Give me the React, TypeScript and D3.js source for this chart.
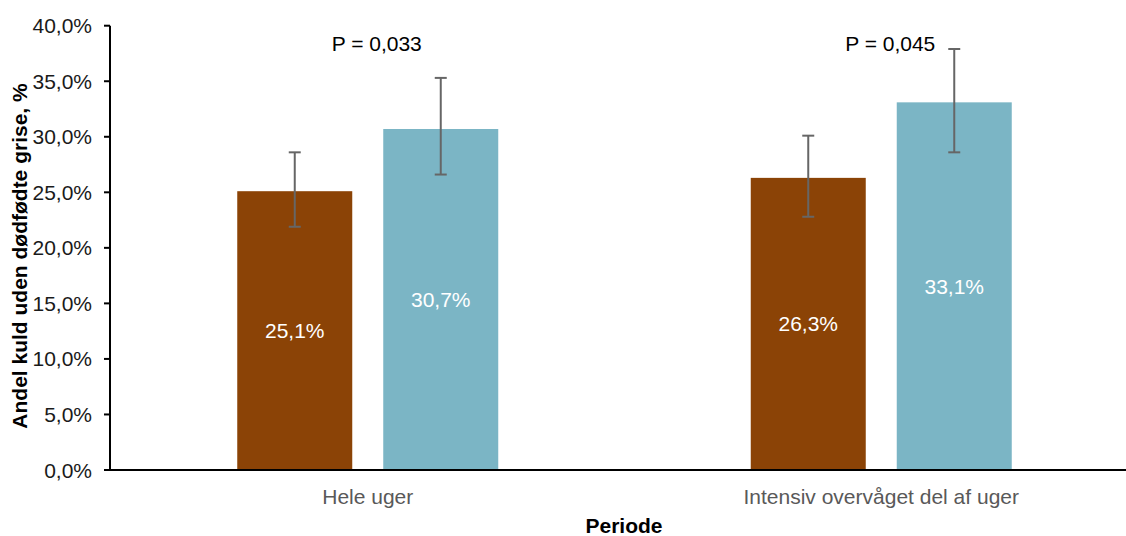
import React from "react";
import * as d3 from "d3";

// Periods on the x axis
const categories = ["Hele uger", "Intensiv overvåget del af uger"];
// Two groups compared within each period
const seriesKeys = ["kontrol", "forsøg"];
const seriesColors = ["#8B4306", "#7BB5C5"];
// Share of litters without stillborn piglets (fraction)
const kontrolValues = [0.251, 0.263];
const forsogValues = [0.307, 0.331];
// Confidence interval bounds
const kontrolLow = [0.219, 0.228];
const kontrolHigh = [0.286, 0.301];
const forsogLow = [0.266, 0.286];
const forsogHigh = [0.353, 0.379];
// P-values per period
const pLabels = ["P = 0,033", "P = 0,045"];
const yTicks = [0, 0.05, 0.1, 0.15, 0.2, 0.25, 0.3, 0.35, 0.4];

const W = 1126;
const H = 536;
const FONT = "'Liberation Sans', Arial, sans-serif";

const fmtPct = (v: number) => (v * 100).toFixed(1).replace(".", ",") + "%";

export default function App() {
  const y = d3.scaleLinear().domain([0, 0.4]).range([470, 25.7]);
  const x0 = d3.scaleBand<string>().domain(categories).range([111, 1138]).paddingInner(0).paddingOuter(0);
  const bw = x0.bandwidth();
  const x1 = d3
    .scaleBand<string>()
    .domain(seriesKeys)
    .range([bw / 2 - 130.5, bw / 2 + 130.5])
    .paddingInner(31 / 146)
    .paddingOuter(0);

  const values = [kontrolValues, forsogValues];
  const lows = [kontrolLow, forsogLow];
  const highs = [kontrolHigh, forsogHigh];

  return (
    <div style={{ position: "absolute", left: 0, top: 0 }}>
      <svg width={W} height={H} style={{ display: "block", fontFamily: FONT }}>
        <rect width={W} height={H} fill="#fff" />

        {/* y axis ticks and labels */}
        {yTicks.map((t) => (
          <g key={t}>
            <line x1={104} x2={110} y1={y(t)} y2={y(t)} stroke="#000" strokeWidth={2} />
            <text x={92} y={y(t)} textAnchor="end" dominantBaseline="central" fontSize={21} fill="#1a1a1a">
              {fmtPct(t)}
            </text>
          </g>
        ))}

        {/* bars */}
        {categories.map((c, ci) => (
          <g key={c} transform={`translate(${x0(c)},0)`}>
            {seriesKeys.map((s, si) => {
              const v = values[si][ci];
              const bx = x1(s)!;
              const b = x1.bandwidth();
              return (
                <g key={s}>
                  <rect x={bx} y={y(v)} width={b} height={y(0) - y(v)} fill={seriesColors[si]} />
                  <text
                    x={bx + b / 2}
                    y={(y(v) + y(0)) / 2}
                    textAnchor="middle"
                    dominantBaseline="central"
                    fontSize={21}
                    fill="#fff"
                  >
                    {fmtPct(v)}
                  </text>
                </g>
              );
            })}
            {/* error bars */}
            {seriesKeys.map((s, si) => {
              const cx = x1(s)! + x1.bandwidth() / 2;
              const lo = y(lows[si][ci]);
              const hi = y(highs[si][ci]);
              return (
                <g key={s + "-err"} stroke="#666" strokeWidth={2}>
                  <line x1={cx} x2={cx} y1={lo} y2={hi} />
                  <line x1={cx - 6} x2={cx + 6} y1={lo} y2={lo} />
                  <line x1={cx - 6} x2={cx + 6} y1={hi} y2={hi} />
                </g>
              );
            })}
            <text
              x={bw / 2 + 9}
              y={y(0.384)}
              textAnchor="middle"
              dominantBaseline="central"
              fontSize={21}
              fill="#000"
            >
              {pLabels[ci]}
            </text>
            <text
              x={bw / 2}
              y={496}
              textAnchor="middle"
              dominantBaseline="central"
              fontSize={21}
              fill="#595959"
            >
              {c}
            </text>
          </g>
        ))}

        {/* axes lines */}
        <line x1={110} x2={110} y1={y(0.4)} y2={y(0)} stroke="#000" strokeWidth={2} />
        <line x1={104} x2={W} y1={y(0)} y2={y(0)} stroke="#000" strokeWidth={2} />

        {/* axis titles */}
        <text x={624} y={525} textAnchor="middle" dominantBaseline="central" fontSize={21} fontWeight="bold" fill="#000">
          Periode
        </text>
        <text
          transform={`translate(19,256) rotate(-90)`}
          textAnchor="middle"
          dominantBaseline="central"
          fontSize={21}
          fontWeight="bold"
          fill="#000"
        >
          Andel kuld uden dødfødte grise, %
        </text>
      </svg>
    </div>
  );
}
